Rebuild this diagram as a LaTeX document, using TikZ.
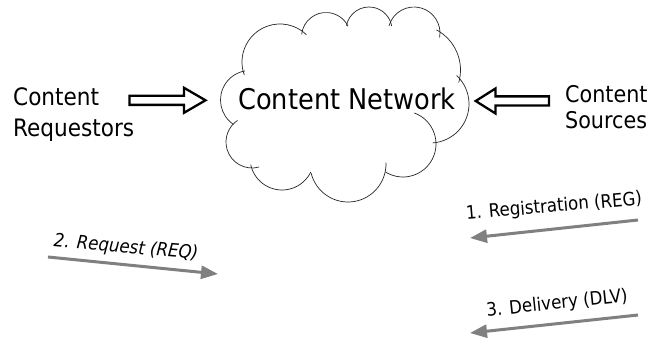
\documentclass[tikz,border=0pt]{standalone}
\usepackage{fontspec}
\setmainfont{DejaVu Sans Condensed}
\usetikzlibrary{arrows.meta}
\definecolor{flowgray}{RGB}{128,128,128}
% one puff of the cloud: centre, start angle, end angle, radius
\newcommand\cloudbump[4]{\draw[cloudline] (#1) ++(#2:#4) arc[start angle=#2,end angle=#3,radius=#4];}
\begin{document}
\begin{tikzpicture}[x=1pt,y=1pt,
  cloudline/.style={draw=black!85, line width=0.7pt},
  hollow/.style={draw=black, line width=2.3pt, fill=white, line join=miter},
  flow/.style={draw=flowgray, line width=3pt, -{Triangle[length=17pt,width=13pt]}},
  flowlabel/.style={inner sep=0pt},
]
\useasboundingbox (0,0) rectangle (652,343);
\fill[white] (0,0) rectangle (652,343);

% cloud outline
\cloudbump{280,281}{200}{46}{38}
\cloudbump{326,306}{174}{26}{24.5}
\cloudbump{369,313}{169}{10}{23}
\cloudbump{414,310}{164}{-10}{26}
\cloudbump{415,273}{62}{-16}{45.5}
\cloudbump{430,239}{47}{-86}{39}
\cloudbump{403,199}{70}{-122}{33}
\cloudbump{348,179}{2}{-166}{38}
\cloudbump{282,185}{-26}{-168}{32}
\cloudbump{252,201}{-74}{-236}{26}
\cloudbump{250,243}{236}{100}{29.5}

\node[anchor=base, inner sep=0pt, font=\fontsize{28.5}{34}\selectfont] (net) at (347,233) {Content Network};

% side labels
\node[anchor=north west, inner sep=0pt, align=left, font=\fontsize{24}{31}\selectfont] (req) at (13,256) {Content\\Requestors};
\node[anchor=north west, inner sep=0pt, align=left, font=\fontsize{23}{26.5}\selectfont] (src) at (565,258) {Content\\Sources};

% hollow block arrows towards the cloud
\draw[hollow] (129.5,238.1) -- (184,238.1) -- (184,230.2) -- (205.5,242.7)
  -- (184,255.2) -- (184,247.3) -- (129.5,247.3) -- cycle;
\draw[hollow] (549,237.4) -- (495.5,237.4) -- (495.5,229.5) -- (475.7,242)
  -- (495.5,254.5) -- (495.5,246.6) -- (549,246.6) -- cycle;

% message flows
\coordinate (reqA) at (48,86);
\coordinate (reqB) at (218,69);
\coordinate (regA) at (638,123);
\coordinate (regB) at (470,105);
\coordinate (dlvA) at (638,28);
\coordinate (dlvB) at (470,10);
\draw[flow] (reqA) -- (reqB);
\draw[flow] (regA) -- (regB);
\draw[flow] (dlvA) -- (dlvB);
\node[flowlabel, rotate=-5, font=\fontsize{18.5}{22}\selectfont\itshape] (reqL) at (126,95) {2. Request (REQ)};
\node[flowlabel, rotate=5, font=\fontsize{18.5}{22}\selectfont] (regL) at (554,136) {1. Registration (REG)};
\node[flowlabel, rotate=6, font=\fontsize{18.5}{22}\selectfont] (dlvL) at (557,39) {3. Delivery (DLV)};
\end{tikzpicture}
\end{document}
